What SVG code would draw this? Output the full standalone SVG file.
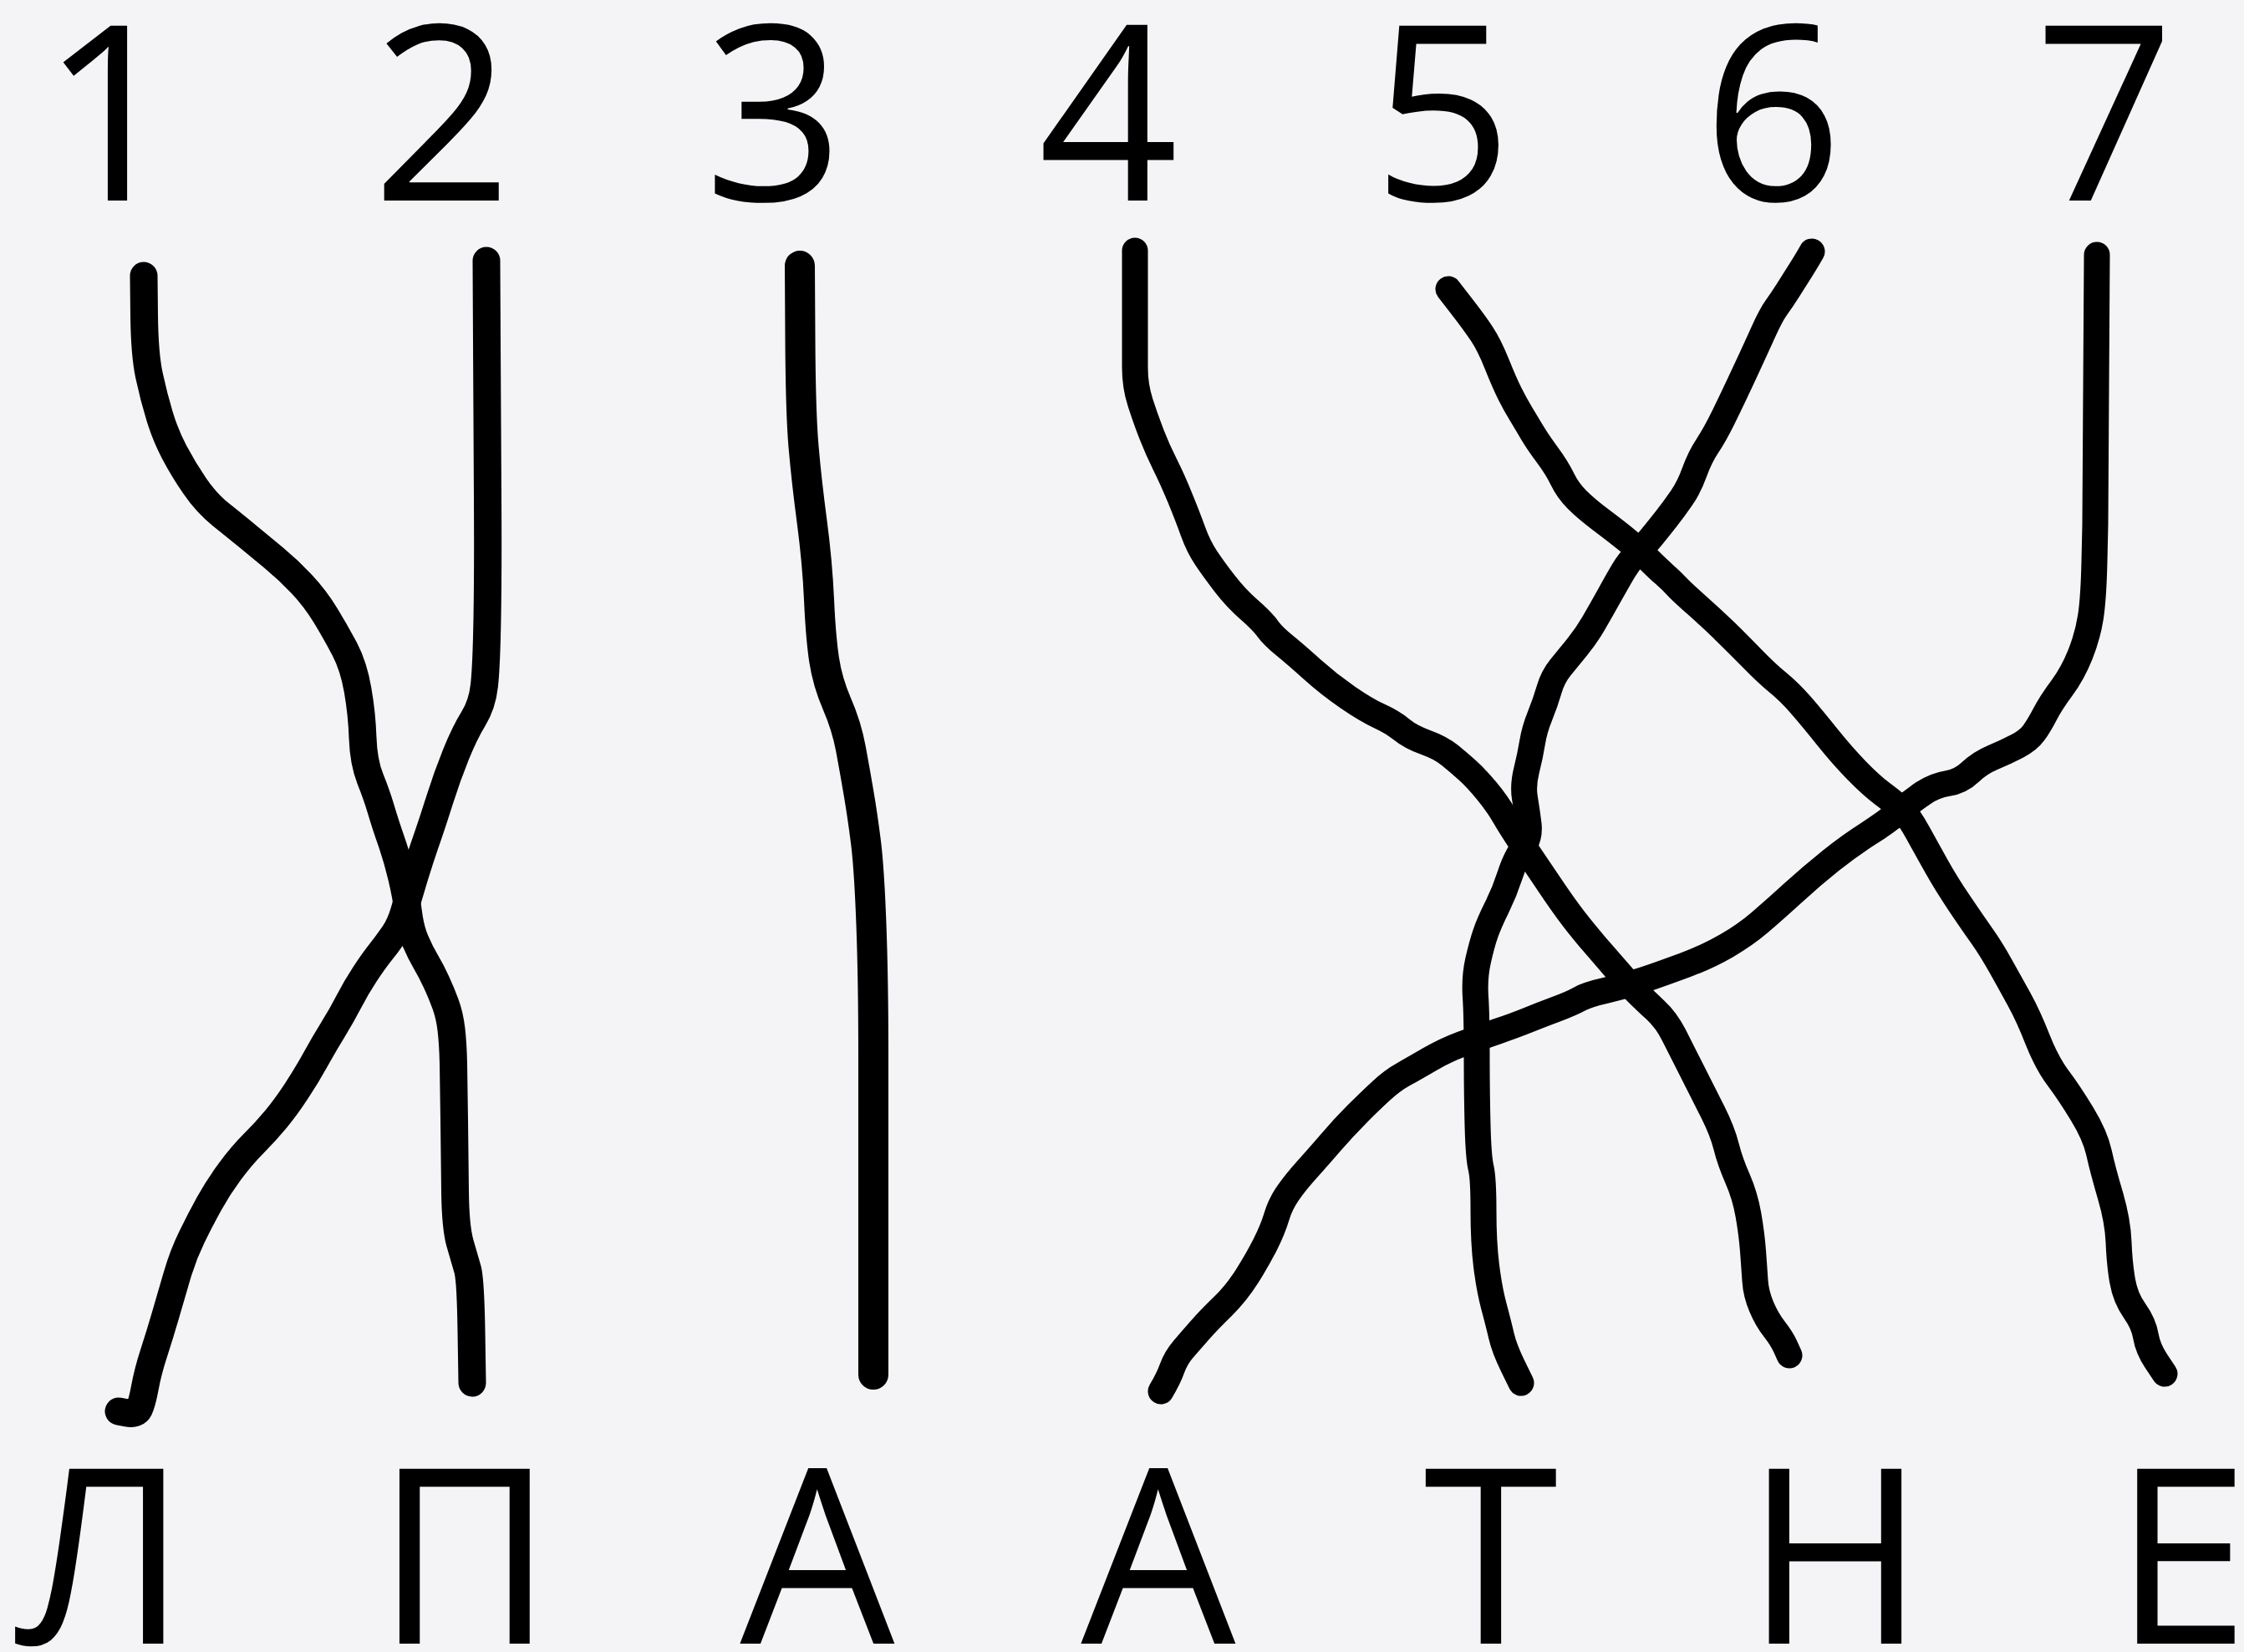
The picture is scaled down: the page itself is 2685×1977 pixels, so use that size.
<svg xmlns="http://www.w3.org/2000/svg" width="2685" height="1977" viewBox="0 0 2685 1977">
<style>
.t{font-family:"Open Sans","Noto Sans","DejaVu Sans",sans-serif;font-size:293px;fill:#000;text-anchor:middle}
.ln{fill:none;stroke:#000;stroke-linecap:round;stroke-linejoin:round}
.w1{stroke-width:33}
.w3{stroke-width:36}
.w2{stroke-width:31}
</style>
<rect width="2685" height="1977" fill="#f4f3f6"/>
<g id="digits">
<g id="d1"><text class="t" x="133" y="240">1</text></g>
<g id="d2"><text class="t" x="529" y="240">2</text></g>
<g id="d3"><text class="t" x="926" y="240">3</text></g>
<g id="d4"><text class="t" x="1326" y="240">4</text></g>
<g id="d5"><text class="t" x="1726" y="240">5</text></g>
<g id="d6"><text class="t" x="2121" y="240">6</text></g>
<g id="d7"><text class="t" x="2518" y="240">7</text></g>
</g>
<g id="letters">
<g id="l1"><text class="t" x="121" y="1967">Л</text></g>
<g id="l2"><text class="t" x="556" y="1967">П</text></g>
<g id="l3"><text class="t" x="978" y="1967">А</text></g>
<g id="l4"><text class="t" x="1386" y="1967">А</text></g>
<g id="l5"><text class="t" x="1784" y="1967">Т</text></g>
<g id="l6"><text class="t" x="2196" y="1967">Н</text></g>
<g id="l7"><text class="t" x="2610" y="1967">Е</text></g>
</g>
<g id="connectors">
<path id="c1" class="ln w1" d="M172,330 L172.5,377 Q173,424 178.5,449.5 Q184,475 191,498 Q198,521 208.5,541 Q219,561 233,581.5 Q247,602 264.5,616 Q282,630 296,641.5 Q310,653 327.5,667.5 Q345,682 361,699 Q377,716 389.5,736.5 Q402,757 412.5,777 Q423,797 428,825.5 Q433,854 434,883 Q435,912 443,932 Q451,952 456,969 Q461,986 468,1006 Q475,1026 480.5,1049 Q486,1072 488.5,1092 Q491,1112 497,1126 Q503,1140 509.5,1151 Q516,1162 522,1175 Q528,1188 533,1201.5 Q538,1215 540,1232 Q542,1249 542.5,1273 Q543,1297 543.5,1340 Q544,1383 544.5,1426 Q545,1469 550.5,1488 Q556,1507 559.5,1519 Q563,1531 564,1593 L565,1655"/>
<path id="c2" class="ln w1" d="M582,312 L582.5,411 Q583,510 583.5,596 Q584,682 583,739.5 Q582,797 579.5,820 Q577,843 566.5,860 Q556,877 545.5,903 Q535,929 526,957.5 Q517,986 510,1006 Q503,1026 496,1049 Q489,1072 484,1089.5 Q479,1107 471,1118.5 Q463,1130 455,1140 Q447,1150 436.5,1166 Q426,1182 417.5,1198.5 Q409,1215 398.5,1232 Q388,1249 377.5,1268 Q367,1287 354.5,1306 Q342,1325 330,1339.5 Q318,1354 303.5,1368.5 Q289,1383 275,1402 Q261,1421 250.5,1440 Q240,1459 229.5,1480.5 Q219,1502 212,1526 Q205,1550 198,1574 Q191,1598 184,1619.5 Q177,1641 173.5,1660 Q170,1679 166.5,1686 Q163,1693 152.5,1691 L142,1689"/>
<path id="c3" class="ln w3" d="M957,318 L957.5,406 Q958,494 961.5,534.5 Q965,575 971.5,624 Q978,673 980,717.5 Q982,762 986,789 Q990,816 1001.5,842.5 Q1013,869 1018,896 Q1023,923 1027.5,949.5 Q1032,976 1036,1007.5 Q1040,1039 1042.5,1106 Q1045,1173 1045,1262 L1045,1645"/>
<path id="c4" class="ln w2" d="M1358,300 L1358,440 Q1358,462 1364.5,482 Q1371,502 1378,520 Q1385,538 1394,556 Q1403,574 1412,596 Q1421,618 1427.5,636 Q1434,654 1443,667.5 Q1452,681 1465.5,698.5 Q1479,716 1494.5,729.5 Q1510,743 1516.5,752 Q1523,761 1536.5,772 Q1550,783 1570,801 Q1590,819 1612.5,834.5 Q1635,850 1650.5,857 Q1666,864 1677,873 Q1688,882 1706,888.5 Q1724,895 1735,904 Q1746,913 1756,922 Q1766,931 1778.5,946 Q1791,961 1800,976.5 Q1809,992 1824.5,1015 Q1840,1038 1855.5,1061 Q1871,1084 1882.5,1099 Q1894,1114 1909.5,1132 Q1925,1150 1938.5,1165.5 Q1952,1181 1959.5,1188.5 Q1967,1196 1980.5,1208.5 Q1994,1221 2003,1239 Q2012,1257 2025,1282.5 Q2038,1308 2049.5,1331 Q2061,1354 2065.5,1372 Q2070,1390 2079,1410.5 Q2088,1431 2092,1454 Q2096,1477 2097.5,1497 Q2099,1517 2100,1532.5 Q2101,1548 2107.5,1563.5 Q2114,1579 2123,1590.5 Q2132,1602 2136.5,1612 L2141,1622"/>
<path id="c5" class="ln w2" d="M1733,346 L1748.5,366 Q1764,386 1773,399.5 Q1782,413 1791,435.5 Q1800,458 1806.5,471 Q1813,484 1820,495.5 Q1827,507 1833.5,518 Q1840,529 1851.5,544.5 Q1863,560 1869.5,573.5 Q1876,587 1887,598 Q1898,609 1916,622.5 Q1934,636 1947.5,647 Q1961,658 1972,669 Q1983,680 1991.5,687.5 Q2000,695 2006,701.5 Q2012,708 2029.5,723.5 Q2047,739 2063,754.5 Q2079,770 2096.5,788 Q2114,806 2127.5,817 Q2141,828 2154.5,843.5 Q2168,859 2186,881.5 Q2204,904 2221.5,922 Q2239,940 2252.5,950 Q2266,960 2275,968.5 Q2284,977 2295,997 Q2306,1017 2317.5,1037.5 Q2329,1058 2344.5,1081 Q2360,1104 2371,1119.5 Q2382,1135 2393.5,1155.5 Q2405,1176 2416,1196 Q2427,1216 2438,1244 Q2449,1272 2462.5,1290 Q2476,1308 2491.5,1333.5 Q2507,1359 2511.5,1379.5 Q2516,1400 2525,1430.5 Q2534,1461 2535,1486.5 Q2536,1512 2539.5,1532.5 Q2543,1553 2554,1568.5 Q2565,1584 2567.5,1599 Q2570,1614 2580,1629 L2590,1644"/>
<path id="c6" class="ln w2" d="M2168,301 Q2163,310 2154.5,323.5 Q2146,337 2139,348 Q2132,359 2125.5,368 Q2119,377 2110,397 Q2101,417 2087.5,446 Q2074,475 2063,497.5 Q2052,520 2043,533.5 Q2034,547 2027.5,565 Q2021,583 2012,596 Q2003,609 1994,620.5 Q1985,632 1976,643 Q1967,654 1958,663 Q1949,672 1942.5,683 Q1936,694 1926,712 Q1916,730 1907,745.5 Q1898,761 1887,774.5 Q1876,788 1867,799 Q1858,810 1853.5,825.5 Q1849,841 1842.5,857 Q1836,873 1833.5,888.5 Q1831,904 1826.5,922 Q1822,940 1824.5,955 Q1827,970 1829,986 Q1831,1002 1822,1015 Q1813,1028 1806.5,1048 Q1800,1068 1791,1086 Q1782,1104 1777.5,1117 Q1773,1130 1768.5,1150 Q1764,1170 1765.5,1193 Q1767,1216 1767,1262 Q1767,1308 1768,1346.5 Q1769,1385 1772,1397.5 Q1775,1410 1775,1448.5 Q1775,1487 1778.5,1515 Q1782,1543 1787.5,1563.5 Q1793,1584 1796.5,1599 Q1800,1614 1810,1634.5 L1820,1655"/>
<path id="c7" class="ln w2" d="M2509,305 L2507,627 L2506,671.5 Q2505,716 2501.5,738.5 Q2498,761 2489,783.5 Q2480,806 2467,823.5 Q2454,841 2447,854.5 Q2440,868 2433.5,877 Q2427,886 2413.5,893 Q2400,900 2384.5,906.5 Q2369,913 2357.5,924 Q2346,935 2330.5,937.5 Q2315,940 2301.5,949 Q2288,958 2272.5,971 Q2257,984 2235,998 Q2213,1012 2190.5,1030 Q2168,1048 2145.5,1068.5 Q2123,1089 2105.5,1104 Q2088,1119 2065.5,1132 Q2043,1145 2016,1155 Q1989,1165 1967,1172.5 Q1945,1180 1922.5,1185 Q1900,1190 1890,1195.5 Q1880,1201 1862.5,1207.5 Q1845,1214 1829,1220.5 Q1813,1227 1791,1234.5 Q1769,1242 1749,1249.5 Q1729,1257 1711,1267.5 Q1693,1278 1679.5,1285.5 Q1666,1293 1652.5,1305.5 Q1639,1318 1623.5,1333.5 Q1608,1349 1592.5,1367 Q1577,1385 1563.5,1400 Q1550,1415 1541,1428 Q1532,1441 1527.5,1456 Q1523,1471 1514,1489 Q1505,1507 1492,1527.5 Q1479,1548 1463,1563.5 Q1447,1579 1436,1591.5 Q1425,1604 1416,1614.5 Q1407,1625 1402.5,1637.5 Q1398,1650 1389,1665"/>
</g>
</svg>
